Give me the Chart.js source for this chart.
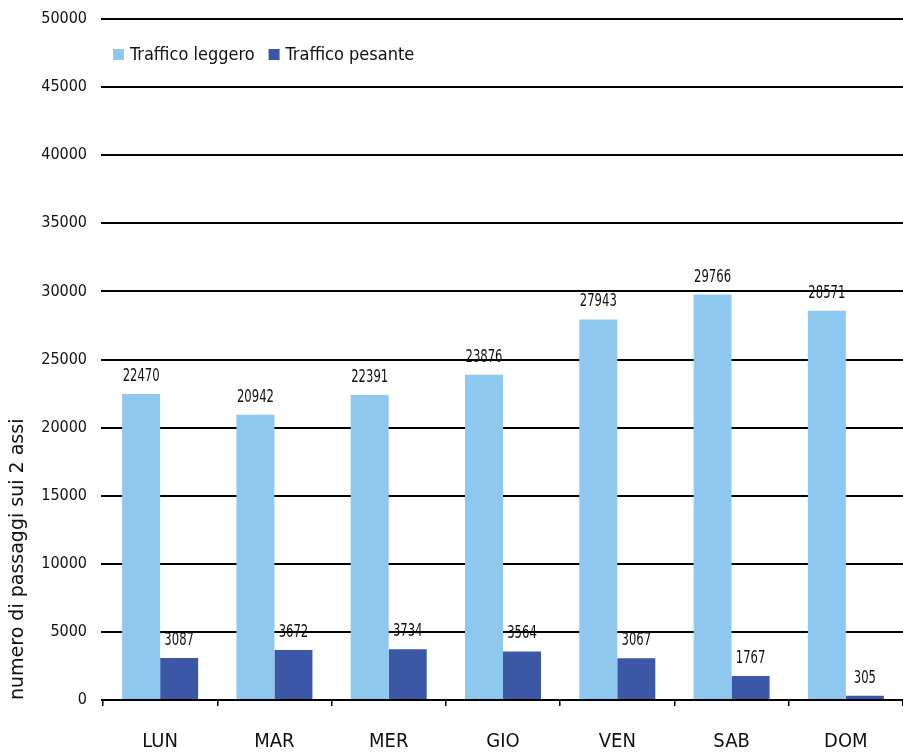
<!DOCTYPE html>
<html>
<head>
<meta charset="utf-8">
<script src="https://cdn.jsdelivr.net/npm/chart.js@4"></script>
<style>
  html, body { margin: 0; padding: 0; background: #fff; }
  #wrap { width: 903px; height: 754px; }
</style>
</head>
<body>
<div id="wrap"><canvas id="trafficChart" width="903" height="754"></canvas></div>
<script>
// chart data
const days = ['LUN', 'MAR', 'MER', 'GIO', 'VEN', 'SAB', 'DOM'];
const lightTraffic = [22470, 20942, 22391, 23876, 27943, 29766, 28571];
const heavyTraffic = [3087, 3672, 3734, 3564, 3067, 1767, 305];
const seriesNames = ['Traffico leggero', 'Traffico pesante'];
const yAxisTitle = 'numero di passaggi sui 2 assi';
const yMax = 50000;
const yStep = 5000;

const narrowFont = "'Liberation Sans Narrow', 'DejaVu Sans Condensed', sans-serif";

// draws the value above each bar (squeezed a bit, the original font is narrow)
const valueLabels = {
    id: 'valueLabels',
    afterDatasetsDraw(chart) {
        const ctx = chart.ctx;
        const squeeze = 0.76;
        ctx.save();
        ctx.fillStyle = '#111';
        ctx.font = `17px ${narrowFont}`;
        ctx.textAlign = 'center';
        ctx.textBaseline = 'bottom';
        chart.data.datasets.forEach((ds, i) => {
            const meta = chart.getDatasetMeta(i);
            meta.data.forEach((bar, j) => {
                ctx.save();
                ctx.translate(bar.x, bar.y - 9);
                ctx.scale(squeeze, 1);
                ctx.fillText(String(ds.data[j]), 0, 0);
                ctx.restore();
            });
        });
        ctx.restore();
    }
};

// legend in one row inside the plot, top left
const innerLegend = {
    id: 'innerLegend',
    afterDraw(chart) {
        const ctx = chart.ctx;
        const area = chart.chartArea;
        let x = area.left + 10;
        const y = area.top + 36;
        ctx.save();
        ctx.font = `18px ${narrowFont}`;
        ctx.textBaseline = 'middle';
        ctx.textAlign = 'left';
        chart.data.datasets.forEach((ds) => {
            ctx.fillStyle = ds.backgroundColor;
            ctx.fillRect(x, y - 6, 11, 11);
            x += 17;
            ctx.fillStyle = '#111';
            ctx.fillText(ds.label, x, y);
            x += ctx.measureText(ds.label).width + 14;
        });
        ctx.restore();
    }
};

const ctx = document.getElementById('trafficChart').getContext('2d');

new Chart(ctx, {
    type: 'bar',
    data: {
        labels: days,
        datasets: [
            {
                label: seriesNames[0],
                data: lightTraffic,
                backgroundColor: '#8fc8ee',
                categoryPercentage: 0.665,
                barPercentage: 1.0
            },
            {
                label: seriesNames[1],
                data: heavyTraffic,
                backgroundColor: '#3b57a5',
                categoryPercentage: 0.665,
                barPercentage: 1.0
            }
        ]
    },
    options: {
        responsive: false,
        animation: false,
        layout: {
            autoPadding: false,
            padding: { top: 19, right: 0, bottom: 0, left: 0 }
        },
        plugins: {
            tooltip: { enabled: false },
            legend: { display: false }
        },
        scales: {
            x: {
                afterFit: (scale) => {
                    scale.height = 54;
                    scale.paddingLeft = 0;
                    scale.paddingRight = 0;
                },
                grid: {
                    display: true,
                    drawOnChartArea: false,
                    drawTicks: true,
                    tickLength: 6,
                    color: '#000',
                    lineWidth: 1.5
                },
                border: { display: true, color: '#000', width: 2 },
                ticks: {
                    color: '#111',
                    padding: 24,
                    font: { family: narrowFont, size: 20 }
                }
            },
            y: {
                min: 0,
                max: yMax,
                afterFit: (scale) => {
                    scale.width = 103;
                    scale.paddingTop = 0;
                    scale.paddingBottom = 0;
                },
                border: { display: false },
                grid: {
                    color: '#000',
                    lineWidth: 2,
                    drawTicks: true,
                    tickLength: 2
                },
                ticks: {
                    stepSize: yStep,
                    color: '#111',
                    padding: 14,
                    font: { family: narrowFont, size: 16 },
                    callback: (value) => String(value)
                },
                title: {
                    display: true,
                    text: yAxisTitle,
                    align: 'start',
                    color: '#111',
                    padding: { top: 7, bottom: 0 },
                    font: { family: "'DejaVu Sans', Verdana, sans-serif", size: 19 }
                }
            }
        }
    },
    plugins: [valueLabels, innerLegend]
});
</script>
</body>
</html>
